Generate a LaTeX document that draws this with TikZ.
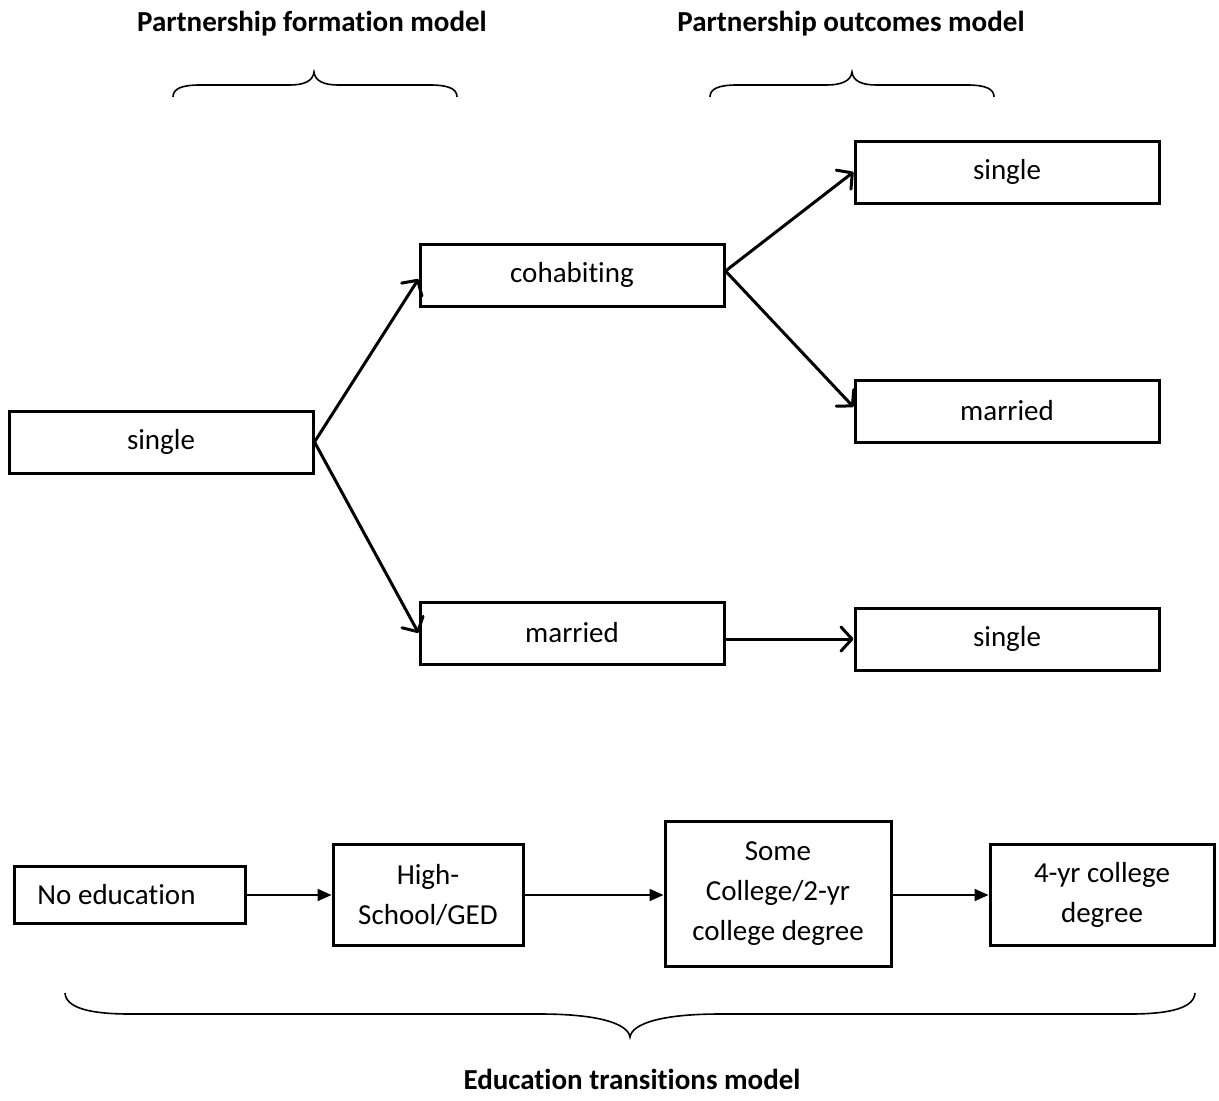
\documentclass[tikz,border=0pt]{standalone}
\usepackage{fontspec}
\setmainfont[Ligatures=NoCommon]{Carlito}
\usetikzlibrary{arrows.meta}
\begin{document}
\begin{tikzpicture}[x=1pt,y=-1pt,
  box/.style={draw, line width=3pt, font=\fontsize{29}{40}\selectfont, align=center, inner sep=0pt},
  sbox/.style={box, minimum width=304pt, minimum height=62pt},
  ttl/.style={font=\fontsize{29}{35}\selectfont\bfseries, inner sep=0pt},
  oarr/.style={line width=3pt, -{Straight Barb[length=11pt,width=24pt,line cap=round,line join=round]}},
  farr/.style={line width=2pt, -{Triangle[length=14pt,width=12pt]}},
  brace/.style={line width=1.6pt}]
\useasboundingbox (0,0) rectangle (1219,1101);

% titles
\node[ttl] (t1) at (312,24) {Partnership formation model};
\node[ttl] (t2) at (851,24) {Partnership outcomes model};
\node[ttl] (t3) at (632,1079) {Education transitions model};

% partnership boxes
\node[sbox] (s0) at (161,442) {single};
\node[sbox] (coh) at (572,275) {cohabiting};
\node[sbox] (m1) at (572,633) {married};
\node[sbox] (s1) at (1007,172) {single};
\node[sbox] (m2) at (1007,411) {married};
\node[sbox] (s2) at (1007,639) {single};

\draw[oarr] (s0.east) -- ([yshift=-4pt]coh.west);
\draw[oarr] (s0.east) -- (m1.west);
\draw[oarr] ([yshift=4pt]coh.east) -- (s1.west);
\draw[oarr] ([yshift=4pt]coh.east) -- ([yshift=4pt]m2.west);
\draw[oarr] (m1.east |- s2.west) -- (s2.west);

% education boxes
\node[box, minimum height=57pt, inner xsep=23pt] (e0) at (130,895) {\makebox[185pt][l]{No education}};
\node[box, minimum width=190pt, minimum height=101pt] (e1) at (428,895) {High-\\School/GED};
\node[box, minimum width=226pt, minimum height=145pt] (e2) at (778,894) {Some\\College/2-yr\\college degree};
\node[box, minimum width=224pt, minimum height=101pt] (e3) at (1102,895) {4-yr college\\degree};

\draw[farr] (e0.east) -- (e1.west);
\draw[farr] (e1.east) -- (e2.west |- e1.east);
\draw[farr] (e2.east |- e3.west) -- (e3.west);

% braces
\draw[brace] (173,97) .. controls (173,89) and (181,85) .. (200,85) -- (290,85)
  .. controls (304,85) and (313,81) .. (314,72)
  .. controls (315,81) and (324,85) .. (338,85) -- (430,85)
  .. controls (449,85) and (457,89) .. (457,97);
\draw[brace] (710,97) .. controls (710,89) and (718,85) .. (737,85) -- (827,85)
  .. controls (841,85) and (851,81) .. (852,72)
  .. controls (853,81) and (862,85) .. (876,85) -- (967,85)
  .. controls (986,85) and (994,89) .. (994,97);
\draw[brace] (65,993) .. controls (66,1008) and (90,1014) .. (130,1014) -- (540,1014)
  .. controls (600,1014) and (628,1024) .. (630,1037)
  .. controls (632,1024) and (660,1014) .. (720,1014) -- (1130,1014)
  .. controls (1170,1014) and (1194,1008) .. (1195,993);
\end{tikzpicture}
\end{document}
